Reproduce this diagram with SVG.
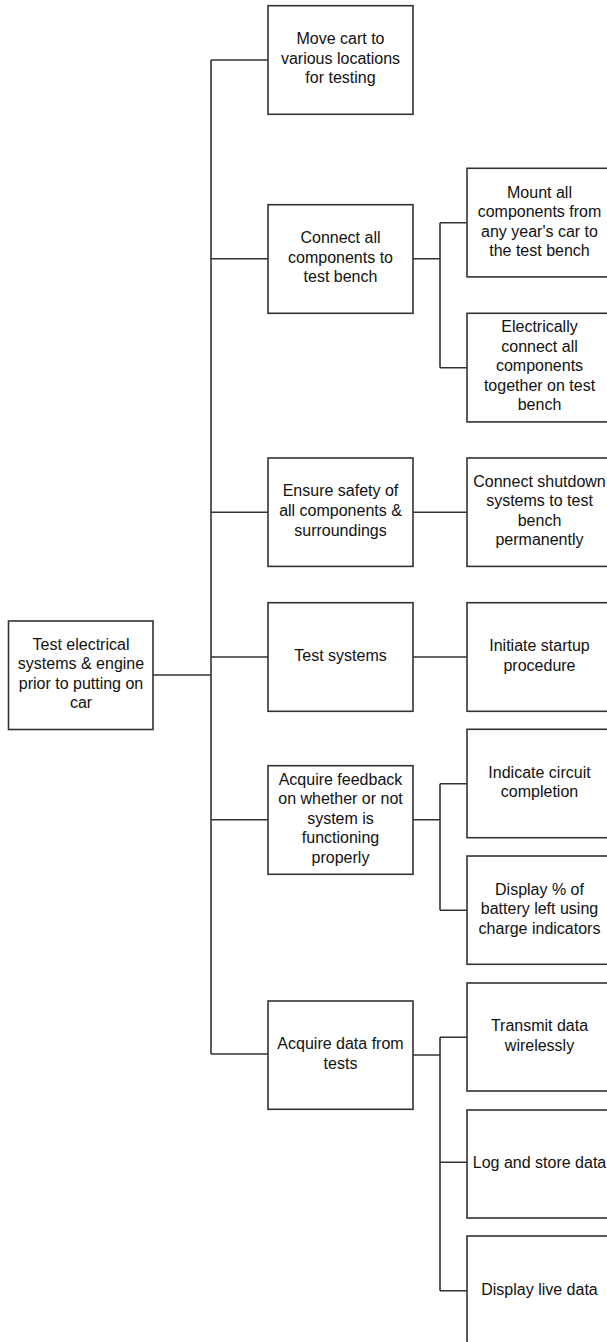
<svg xmlns="http://www.w3.org/2000/svg" width="607" height="1342" viewBox="0 0 607 1342">
<style>
.box{fill:#fff;stroke:#333;stroke-width:1.6}
.t{font-family:"Liberation Sans",Arial,sans-serif;font-size:16px;fill:#111;text-anchor:middle}
.c{fill:none;stroke:#333;stroke-width:1.6}
</style>
<rect width="607" height="1342" fill="#fff"/>
<g id="connectors">
<path class="c" d="M153,675 H211 M211,60 V1054 M211,60 H268 M211,258.7 H268 M211,512.3 H268 M211,657 H268 M211,819.7 H268 M211,1054 H268"/>
<path class="c" d="M413,258.7 H440 M440,222.7 V367.7 M440,222.7 H467 M440,367.7 H467"/>
<path class="c" d="M413,512.3 H467 M413,657 H467"/>
<path class="c" d="M413,819.7 H440 M440,783.7 V910.3 M440,783.7 H467 M440,910.3 H467"/>
<path class="c" d="M413,1055 H440 M440,1037.3 V1290.7 M440,1037.3 H467 M440,1162.3 H467 M440,1290.7 H467"/>
</g>
<g id="root"><rect class="box" x="8.5" y="621" width="144.5" height="108.5"/>
<text class="t"><tspan x="81" y="649.5">Test electrical</tspan><tspan x="81" y="669.2">systems &amp; engine</tspan><tspan x="81" y="688.8">prior to putting on</tspan><tspan x="81" y="708.2">car</tspan></text></g>
<g id="move-cart"><rect class="box" x="268" y="5.7" width="145" height="108.6"/>
<text class="t"><tspan x="340.5" y="44.2">Move cart to</tspan><tspan x="340.5" y="63.8">various locations</tspan><tspan x="340.5" y="83.2">for testing</tspan></text></g>
<g id="connect-all"><rect class="box" x="268" y="204.7" width="145" height="108.6"/>
<text class="t"><tspan x="340.5" y="243.2">Connect all</tspan><tspan x="340.5" y="262.8">components to</tspan><tspan x="340.5" y="282.2">test bench</tspan></text></g>
<g id="mount-all"><rect class="box" x="467" y="168.3" width="145" height="108.6"/>
<text class="t"><tspan x="539.5" y="197.5">Mount all</tspan><tspan x="539.5" y="216.8">components from</tspan><tspan x="539.5" y="236.5">any year's car to</tspan><tspan x="539.5" y="255.8">the test bench</tspan></text></g>
<g id="electrically"><rect class="box" x="467" y="313.3" width="145" height="108.6"/>
<text class="t"><tspan x="539.5" y="332.2">Electrically</tspan><tspan x="539.5" y="351.5">connect all</tspan><tspan x="539.5" y="371.2">components</tspan><tspan x="539.5" y="390.5">together on test</tspan><tspan x="539.5" y="410.2">bench</tspan></text></g>
<g id="ensure-safety"><rect class="box" x="268" y="458" width="145" height="108.4"/>
<text class="t"><tspan x="340.5" y="496.2">Ensure safety of</tspan><tspan x="340.5" y="515.8">all components &amp;</tspan><tspan x="340.5" y="535.5">surroundings</tspan></text></g>
<g id="connect-shutdown"><rect class="box" x="467" y="458" width="145" height="108.4"/>
<text class="t"><tspan x="539.5" y="487.2">Connect shutdown</tspan><tspan x="539.5" y="506.2">systems to test</tspan><tspan x="539.5" y="525.5">bench</tspan><tspan x="539.5" y="545.2">permanently</tspan></text></g>
<g id="test-systems"><rect class="box" x="268" y="602.7" width="145" height="108.6"/>
<text class="t"><tspan x="340.5" y="660.8">Test systems</tspan></text></g>
<g id="initiate-startup"><rect class="box" x="467" y="602.7" width="145" height="108.6"/>
<text class="t"><tspan x="539.5" y="650.8">Initiate startup</tspan><tspan x="539.5" y="670.5">procedure</tspan></text></g>
<g id="acquire-feedback"><rect class="box" x="268" y="765.7" width="145" height="108.6"/>
<text class="t"><tspan x="340.5" y="784.5">Acquire feedback</tspan><tspan x="340.5" y="804.2">on whether or not</tspan><tspan x="340.5" y="823.5">system is</tspan><tspan x="340.5" y="842.8">functioning</tspan><tspan x="340.5" y="862.8">properly</tspan></text></g>
<g id="indicate-circuit"><rect class="box" x="467" y="729.3" width="145" height="108.4"/>
<text class="t"><tspan x="539.5" y="777.5">Indicate circuit</tspan><tspan x="539.5" y="796.8">completion</tspan></text></g>
<g id="display-battery"><rect class="box" x="467" y="856" width="145" height="108.3"/>
<text class="t"><tspan x="539.5" y="894.5">Display % of</tspan><tspan x="539.5" y="914.2">battery left using</tspan><tspan x="539.5" y="933.5">charge indicators</tspan></text></g>
<g id="acquire-data"><rect class="box" x="268" y="1001" width="145" height="108.3"/>
<text class="t"><tspan x="340.5" y="1048.8">Acquire data from</tspan><tspan x="340.5" y="1068.5">tests</tspan></text></g>
<g id="transmit"><rect class="box" x="467" y="983" width="145" height="108"/>
<text class="t"><tspan x="539.5" y="1030.8">Transmit data</tspan><tspan x="539.5" y="1050.5">wirelessly</tspan></text></g>
<g id="log-store"><rect class="box" x="467" y="1110" width="145" height="108"/>
<text class="t"><tspan x="539.5" y="1167.8">Log and store data</tspan></text></g>
<g id="display-live"><rect class="box" x="467" y="1236" width="145" height="108.6"/>
<text class="t"><tspan x="539.5" y="1294.5">Display live data</tspan></text></g>
</svg>
